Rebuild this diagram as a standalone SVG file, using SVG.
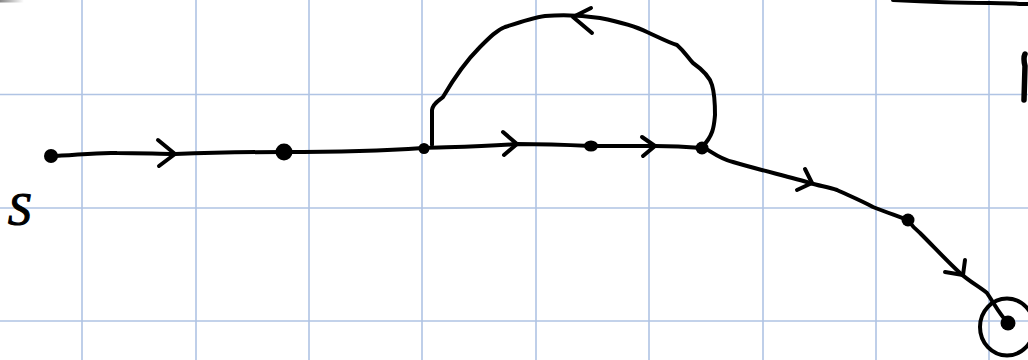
<svg xmlns="http://www.w3.org/2000/svg" width="1028" height="360" viewBox="0 0 1028 360">
<style>
.grid{stroke:#b0c4e4;stroke-width:1.6;fill:none}
.ink{stroke:#000;stroke-width:4;fill:none;stroke-linecap:round;stroke-linejoin:round}
.dot{fill:#000}
.lbl{font-family:"Liberation Serif","DejaVu Serif",serif;font-style:italic;font-size:46px;fill:#000;stroke:#000;stroke-width:1.2}
</style>
<defs>
<linearGradient id="smudge" x1="0" y1="0" x2="1" y2="0">
<stop offset="0" stop-color="#888"/>
<stop offset="1" stop-color="#888" stop-opacity="0"/>
</linearGradient>
</defs>
<rect width="1028" height="360" fill="#fff"/>
<g id="grid" class="grid">
<path d="M82 0V360M196 0V360M309 0V360M422 0V360M536 0V360M649 0V360M763 0V360M876 0V360M989 0V360"/>
<path d="M0 94.5H1028M0 208H1028M0 321H1028"/>
</g>
<rect x="0" y="0" width="24" height="2.5" fill="url(#smudge)"/>
<g id="connectors" class="ink">
<path d="M51 156 C70 156 95 152 117 153 C140 153 160 154 175 154 C200 153 250 152 283 152 C320 152 380 151 423 148"/>
<path d="M158 140 L175 154 L159 166"/>
<path d="M423 148 C450 147 480 147 517 144 C545 144 570 145 591 146 C620 146 640 146 655 146 C675 146 690 147 702 148"/>
<path d="M503 132 L517 144 L504 155"/>
<path d="M642 137 L655 146 L643 156"/>
<path d="M432 145 L432 110 C433 103 440 100 443 97 C450 85 462 65 480 47 C490 37 497 30 505 27 C520 22 532 18 545 16 C560 15 580 15 600 18 C620 22 635 26 647 32 C660 38 670 43 677 45 C685 52 688 58 693 63 C703 70 710 78 712 85 C715 95 715 105 715 115 C714 125 714 135 702 147"/>
<path d="M591 8 L573 17 L592 33"/>
<path d="M703 147 C712 152 720 159 733 162 C760 170 790 177 810 183 C820 186 828 187 837 190 C850 196 862 201 873 207 C885 212 898 216 908 220"/>
<path d="M805 169 L812 183 L797 190"/>
<path d="M908 220 C912 226 915 229 920 233 C935 248 948 262 960 273 C970 282 980 287 987 293 C995 305 1000 315 1008 323"/>
<path d="M965 260 L963 275 L945 272"/>
<ellipse cx="1007" cy="327" rx="27" ry="28.5"/>
<path d="M893 0 C930 2 965 3 990 3 C1005 3 1018 4 1028 4"/>
<path d="M1025 54 C1023 58 1024 62 1025 66 L1024 100" stroke-width="5.5"/>
</g>
<g id="node-s"><circle class="dot" cx="51" cy="156" r="7"/></g>
<g id="node-a"><circle class="dot" cx="284" cy="152" r="8.5"/></g>
<g id="node-b"><circle class="dot" cx="424" cy="148.5" r="5.5"/></g>
<g id="node-c"><ellipse class="dot" cx="591" cy="146" rx="7" ry="5.5"/></g>
<g id="node-d"><circle class="dot" cx="702" cy="148" r="6.5"/></g>
<g id="node-e"><circle class="dot" cx="908" cy="220" r="6.5"/></g>
<g id="node-t"><circle class="dot" cx="1008" cy="323" r="7.5"/></g>
<g id="label-s"><text class="lbl" x="8" y="225">S</text></g>
</svg>
